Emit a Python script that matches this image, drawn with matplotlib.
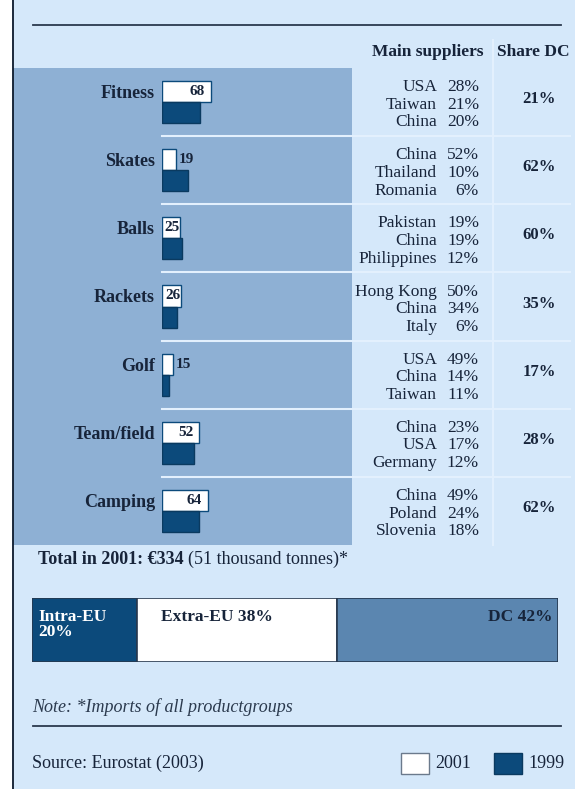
import matplotlib.pyplot as plt
from matplotlib.patches import Rectangle

plt.rcParams["font.family"] = ["Liberation Serif", "DejaVu Serif"]

# imports of sports goods by product group, value in euro million
categories = ["Fitness", "Skates", "Balls", "Rackets", "Golf", "Team/field", "Camping"]
values_2001 = [68, 19, 25, 26, 15, 52, 64]
values_1999 = [53, 36, 28, 21, 10, 45, 51]

suppliers = [
    ["USA", "Taiwan", "China"],
    ["China", "Thailand", "Romania"],
    ["Pakistan", "China", "Philippines"],
    ["Hong Kong", "China", "Italy"],
    ["USA", "China", "Taiwan"],
    ["China", "USA", "Germany"],
    ["China", "Poland", "Slovenia"],
]
supplier_shares = [
    [28, 21, 20],
    [52, 10, 6],
    [19, 19, 12],
    [50, 34, 6],
    [49, 14, 11],
    [23, 17, 12],
    [49, 24, 18],
]
share_dc = [21, 62, 60, 35, 17, 28, 62]

# origin of total imports in 2001
origin_labels = ["Intra-EU", "Extra-EU", "DC"]
origin_shares = [20, 38, 42]

BG = "#d5e8fa"
PANEL = "#8eb0d4"
NAVY = "#0c4a7b"
DC_BLUE = "#5b86b0"
INK = "#17243a"
RULE = "#2b3a4e"
SEP = "#e3f0fd"

W, H = 575, 789
fig = plt.figure(figsize=(W / 100, H / 100), dpi=100, facecolor="white")

# full-figure canvas in pixel units for the frame, panel and table text
ax = fig.add_axes([0, 0, 1, 1])
ax.set_xlim(0, W)
ax.set_ylim(H, 0)
ax.axis("off")
ax.add_patch(Rectangle((12, 0), W - 12, H, facecolor=BG, edgecolor="none"))
ax.plot([12.5, 12.5], [0, H], color="#0e1b2c", lw=1.3)
ax.plot([33, 561], [25, 25], color=RULE, lw=1.3)

panel_top, panel_bot = 68, 545
row_h = (panel_bot - panel_top) / len(categories)
ax.add_patch(Rectangle((13, panel_top), 352 - 13, panel_bot - panel_top,
                       facecolor=PANEL, edgecolor="none"))
ax.plot([493, 493], [40, panel_bot], color=SEP, lw=1.5)
for i in range(1, len(categories)):
    y = panel_top + i * row_h
    ax.plot([162, 570], [y, y], color=SEP, lw=1.5)

ax.text(484, 52, "Main suppliers", ha="right", va="center", fontsize=12.5,
        fontweight="bold", color=INK)
ax.text(497, 52, "Share DC", ha="left", va="center", fontsize=12.5,
        fontweight="bold", color=INK)

for i, cat in enumerate(categories):
    yc = panel_top + (i + 0.5) * row_h
    for k in range(3):
        yy = yc - 15 + k * 17.7
        ax.text(437, yy, suppliers[i][k], ha="right", va="center",
                fontsize=12.5, color=INK)
        ax.text(479, yy, f"{supplier_shares[i][k]}%", ha="right", va="center",
                fontsize=12.5, color=INK)
    ax.text(539, yc - 3, f"{share_dc[i]}%", ha="center", va="center",
            fontsize=12, fontweight="bold", color=INK)

# paired bars, 2001 above 1999
px_per_unit = 0.72
bx0, bx1 = 162, 352
bax = fig.add_axes([bx0 / W, (H - panel_bot) / H, (bx1 - bx0) / W,
                    (panel_bot - panel_top) / H])
bax.patch.set_alpha(0)
bax.set_xlim(0, (bx1 - bx0) / px_per_unit)
bax.set_ylim(len(categories), 0)
bax.axis("off")
pos = [i + 0.5 for i in range(len(categories))]
bax.barh([p - 0.155 for p in pos], values_2001, height=0.31, color="white",
         edgecolor=NAVY, linewidth=1, align="center")
bax.barh([p + 0.155 for p in pos], values_1999, height=0.31, color=NAVY,
         edgecolor="#0a3a60", linewidth=1, align="center")
for p, cat, v in zip(pos, categories, values_2001):
    y = p - 0.155
    bax.annotate(cat, (0, y), xytext=(-7, -2), textcoords="offset pixels",
                 ha="right", va="center", fontsize=13, fontweight="bold",
                 color=INK, annotation_clip=False)
    if v < 20:
        bax.annotate(str(v), (v, y), xytext=(3, 0), textcoords="offset pixels",
                     ha="left", va="center", fontsize=11, fontweight="bold",
                     color=INK)
    else:
        pad = 6 if v * px_per_unit > 30 else 0
        bax.annotate(str(v), (v, y), xytext=(-pad, 0),
                     textcoords="offset pixels", ha="right", va="center",
                     fontsize=11, fontweight="bold", color=INK)

# total line
t1 = ax.text(38, 559, "Total in 2001: €334 ", ha="left", va="center",
             fontsize=13, fontweight="bold", color=INK)
ax.annotate("(51 thousand tonnes)*", xycoords=t1, xy=(1, 0.5), ha="left",
            va="center", fontsize=13, color=INK)

# stacked origin bar
sx0, sx1, sy0, sy1 = 32, 558, 598, 662
sax = fig.add_axes([sx0 / W, (H - sy1) / H, (sx1 - sx0) / W, (sy1 - sy0) / H])
sax.set_xlim(0, sum(origin_shares))
sax.set_ylim(0, 1)
sax.axis("off")
left = 0
seg_colors = [NAVY, "white", DC_BLUE]
for lab, s, c in zip(origin_labels, origin_shares, seg_colors):
    sax.barh(0.5, s, left=left, height=1, color=c, edgecolor="#26384f",
             linewidth=1.2, align="center")
    left += s
sax.annotate(f"{origin_labels[0]}\n{origin_shares[0]}%", (0, 1),
             xytext=(6, -11), textcoords="offset pixels", ha="left", va="top",
             fontsize=12.5, fontweight="bold", color="white", linespacing=0.95)
sax.annotate(f"{origin_labels[1]} {origin_shares[1]}%", (origin_shares[0], 1),
             xytext=(24, -11), textcoords="offset pixels", ha="left", va="top",
             fontsize=12.5, fontweight="bold", color=INK)
sax.annotate(f"{origin_labels[2]} {origin_shares[2]}%", (sum(origin_shares), 1),
             xytext=(-5, -11), textcoords="offset pixels", ha="right", va="top",
             fontsize=12.5, fontweight="bold", color=INK)

# footer
ax.text(32, 707, "Note: *Imports of all productgroups", ha="left", va="center",
        fontsize=13, style="italic", color=RULE)
ax.plot([33, 561], [726, 726], color=RULE, lw=1.3)
ax.text(32, 763, "Source: Eurostat (2003)", ha="left", va="center",
        fontsize=13, color=INK)
ax.add_patch(Rectangle((401, 753), 28, 21, facecolor="white",
                       edgecolor="#6b7a8c", lw=1))
ax.text(435, 763.5, "2001", ha="left", va="center", fontsize=13, color=INK)
ax.add_patch(Rectangle((494, 753), 28, 21, facecolor=NAVY,
                       edgecolor="#0a3a60", lw=1))
ax.text(528, 763.5, "1999", ha="left", va="center", fontsize=13, color=INK)

fig.savefig("out.png", dpi=100, facecolor="white")
